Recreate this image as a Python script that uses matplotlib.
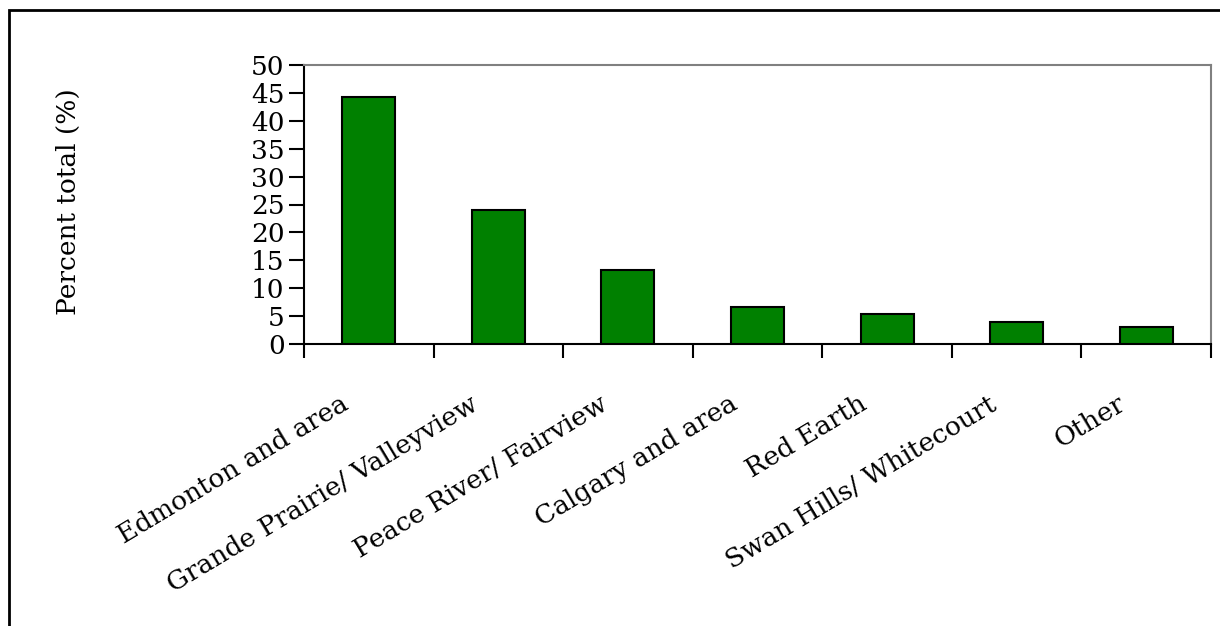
import numpy as np
import matplotlib.pyplot as plt
from matplotlib.patches import Rectangle

regions = ['Edmonton and area', 'Grande Prairie/ Valleyview', 'Peace River/ Fairview',
           'Calgary and area', 'Red Earth', 'Swan Hills/ Whitecourt', 'Other']
percent = [44.2, 24.0, 13.2, 6.6, 5.4, 3.9, 3.1]
yticks = np.arange(0, 51, 5)

plt.rcParams['font.family'] = ['DejaVu Serif']
fs = 19

fig = plt.figure(figsize=(12.2, 6.26), dpi=100)
# outer frame (only left/top visible in the crop)
fig.patches.append(Rectangle((9 / 1220, -0.1), 1.2, 1 - 10 / 626 + 0.1, transform=fig.transFigure,
                             fill=False, edgecolor='black', linewidth=2))

ax = fig.add_axes([304 / 1220, 1 - 344 / 626, (1211 - 304) / 1220, (344 - 65) / 626])
x = np.arange(len(regions))
ax.bar(x, percent, width=0.41, color='#008000', edgecolor='black', linewidth=1.5, zorder=3)

ax.set_xlim(-0.5, len(regions) - 0.5)
ax.set_ylim(0, 50)
ax.set_yticks(yticks)
ax.set_yticklabels([str(v) for v in yticks], fontsize=fs)
ax.tick_params(axis='y', direction='out', length=11, width=1.5, pad=3)

ax.set_xticks(np.arange(len(regions) + 1) - 0.5)
ax.set_xticklabels([])
ax.tick_params(axis='x', direction='out', length=10, width=1.5)
for i, name in enumerate(regions):
    ax.annotate(name, xy=(i, 0), xycoords=('data', 'axes fraction'),
                xytext=(-21, -34), textcoords='offset points',
                rotation=31, ha='right', va='top', rotation_mode='anchor', fontsize=fs)

for s in ['left', 'bottom']:
    ax.spines[s].set_color('black')
    ax.spines[s].set_linewidth(1.5)
for s in ['top', 'right']:
    ax.spines[s].set_color('#808080')
    ax.spines[s].set_linewidth(1.5)

fig.text(68 / 1220, 1 - 202 / 626, 'Percent total (%)', rotation=90,
         ha='center', va='center', fontsize=fs)

fig.savefig('out.png', dpi=100)
